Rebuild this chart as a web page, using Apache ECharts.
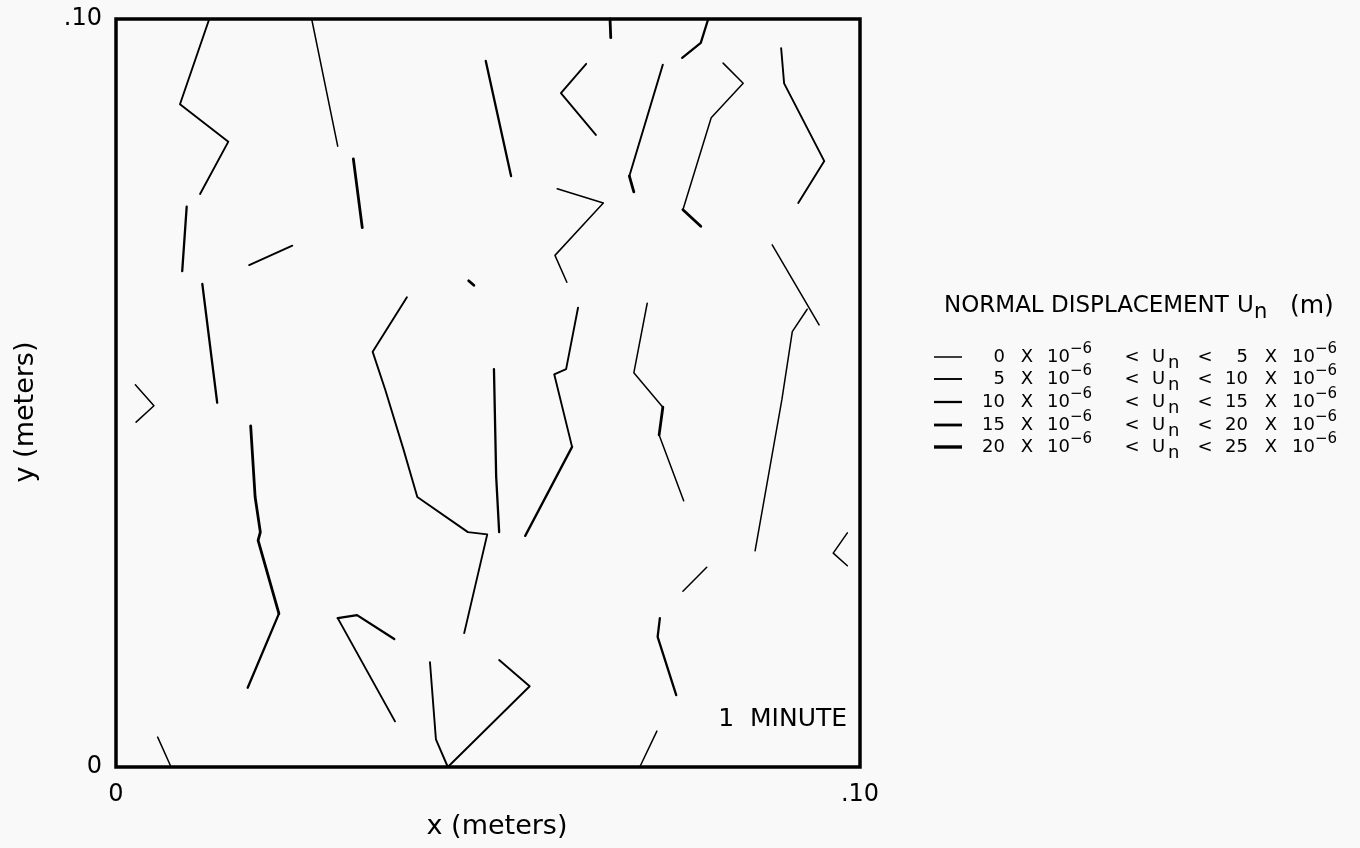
<!DOCTYPE html>
<html>
<head>
<meta charset="utf-8">
<script src="https://cdn.jsdelivr.net/npm/echarts@6/dist/echarts.min.js"></script>
<style>
  html, body { margin: 0; padding: 0; background: #f9f9f9; }
  #chart { width: 1360px; height: 848px; }
</style>
</head>
<body>
<div id="chart"></div>
<script>
// Fracture traces in the 0.10 m x 0.10 m block, coordinates in meters [x, y].
// Each trace is drawn with the line weight of its normal-displacement band.
const traceA  = [[0.0125, 0.0999], [0.0086, 0.0886], [0.0151, 0.0836], [0.0113, 0.0766]];
const traceB  = [[0.0263, 0.1000], [0.0298, 0.0830]];
const traceC  = [[0.0319, 0.0813], [0.0331, 0.0721]];
const traceD  = [[0.0095, 0.0749], [0.0089, 0.0663]];
const traceE  = [[0.0179, 0.0671], [0.0237, 0.0697]];
const traceF  = [[0.0116, 0.0646], [0.0136, 0.0487]];
const traceG  = [[0.0026, 0.0511], [0.0051, 0.0483], [0.0027, 0.0461]];
const traceH1 = [[0.0181, 0.0456], [0.0187, 0.0361], [0.0194, 0.0314], [0.0191, 0.0303], [0.0219, 0.0205]];
const traceH2 = [[0.0219, 0.0205], [0.0177, 0.0106]];
const traceBL = [[0.0056, 0.0040], [0.0074, 0.0000]];
const traceI1 = [[0.0374, 0.0171], [0.0324, 0.0203], [0.0298, 0.0199]];
const traceI2 = [[0.0298, 0.0199], [0.0375, 0.0061]];
const traceJ  = [[0.0391, 0.0628], [0.0345, 0.0555], [0.0362, 0.0504], [0.0386, 0.0426],
                 [0.0405, 0.0361], [0.0473, 0.0314], [0.0499, 0.0311], [0.0468, 0.0179]];
const traceK  = [[0.0508, 0.0532], [0.0511, 0.0388], [0.0515, 0.0314]];
const traceL1 = [[0.0621, 0.0614], [0.0605, 0.0532], [0.0589, 0.0525], [0.0613, 0.0428]];
const traceL2 = [[0.0613, 0.0428], [0.0550, 0.0309]];
const traceM  = [[0.0422, 0.0140], [0.0430, 0.0037], [0.0446, 0.0000], [0.0556, 0.0108], [0.0515, 0.0143]];
const traceN  = [[0.0497, 0.0944], [0.0531, 0.0790]];
const traceO  = [[0.0632, 0.0940], [0.0598, 0.0901], [0.0645, 0.0845]];
const traceP  = [[0.0593, 0.0773], [0.0655, 0.0754], [0.0590, 0.0684], [0.0606, 0.0648]];
const traceQ  = [[0.0664, 0.1000], [0.0665, 0.0975]];
const traceR  = [[0.0796, 0.1000], [0.0786, 0.0968], [0.0761, 0.0948]];
const traceS1 = [[0.0735, 0.0939], [0.0690, 0.0790]];
const traceS2 = [[0.0690, 0.0790], [0.0696, 0.0769]];
const traceT1 = [[0.0816, 0.0941], [0.0843, 0.0914], [0.0800, 0.0868], [0.0762, 0.0745]];
const traceT2 = [[0.0762, 0.0745], [0.0786, 0.0723]];
const traceU  = [[0.0894, 0.0961], [0.0898, 0.0914], [0.0952, 0.0810], [0.0917, 0.0754]];
const traceV1 = [[0.0882, 0.0698], [0.0945, 0.0591]];
const traceV2 = [[0.0929, 0.0612], [0.0909, 0.0582], [0.0895, 0.0491], [0.0859, 0.0289]];
const traceW1 = [[0.0714, 0.0620], [0.0696, 0.0527], [0.0735, 0.0481]];
const traceW2 = [[0.0735, 0.0481], [0.0730, 0.0444]];
const traceW3 = [[0.0730, 0.0444], [0.0763, 0.0356]];
const traceX  = [[0.0794, 0.0267], [0.0762, 0.0235]];
const traceY  = [[0.0983, 0.0313], [0.0964, 0.0286], [0.0983, 0.0269]];
const traceZ  = [[0.0731, 0.0199], [0.0728, 0.0174], [0.0753, 0.0096]];
const traceAA = [[0.0727, 0.0048], [0.0704, 0.0000]];
const traceDot = [[0.0474, 0.0650], [0.0481, 0.0644]];

const fractures = [traceA, traceB, traceC, traceD, traceE, traceF, traceG, traceH1, traceH2,
  traceBL, traceI1, traceI2, traceJ, traceK, traceL1, traceL2, traceM, traceN, traceO, traceP,
  traceQ, traceR, traceS1, traceS2, traceT1, traceT2, traceU, traceV1, traceV2, traceW1,
  traceW2, traceW3, traceX, traceY, traceZ, traceAA, traceDot];
// displacement band (1..5) of each trace, same order as above
const bands = [2, 1, 4, 3, 2, 3, 1, 4, 3,
  1, 3, 2, 2, 3, 2, 3, 2, 3, 2, 1,
  4, 3, 2, 4, 1, 4, 2, 1, 1, 1,
  4, 1, 1, 1, 3, 1, 4];

// band limits, in units of 10^-6 m
const bandLow = [0, 5, 10, 15, 20];
const bandHigh = [5, 10, 15, 20, 25];

// axis ticks
const tickValues = [0, 0.1];
const tickLabels = ['0', '.10'];

const lineWidths = [1.5, 1.9, 2.3, 2.8, 3.4];
const FONT = '"DejaVu Sans", sans-serif';

const chart = echarts.init(document.getElementById('chart'), null, { renderer: 'canvas' });

function txt(text, x, y, size, align, extra) {
  return Object.assign({
    type: 'text', x: x, y: y, silent: true,
    style: {
      text: text, fill: '#000', font: size + 'px ' + FONT,
      align: align, textAlign: align,
      verticalAlign: 'middle', textVerticalAlign: 'middle'
    }
  }, extra || {});
}

const graphics = [];
// legend title
const titleY = 306;
graphics.push(txt('NORMAL DISPLACEMENT', 944, titleY, 23, 'left'));
graphics.push(txt('U', 1237, titleY, 23, 'left'));
graphics.push(txt('n', 1254, titleY + 7, 21, 'left'));
graphics.push(txt('(m)', 1290, titleY, 25, 'left'));

// legend rows
const rowY = [357, 379, 402, 425, 447];
bandLow.forEach(function (lo, i) {
  const y = rowY[i];
  graphics.push({
    type: 'line', silent: true,
    shape: { x1: 934, y1: y, x2: 962, y2: y },
    style: { stroke: '#000', lineWidth: lineWidths[i] }
  });
  graphics.push(txt(String(lo), 1005, y, 18, 'right'));
  graphics.push(txt('X', 1027, y, 18, 'center'));
  graphics.push(txt('10', 1047, y, 18, 'left'));
  graphics.push(txt('\u22126', 1070, y - 8, 15, 'left'));
  graphics.push(txt('<', 1132, y, 18, 'center'));
  graphics.push(txt('U', 1152, y, 18, 'left'));
  graphics.push(txt('n', 1168, y + 6, 18, 'left'));
  graphics.push(txt('<', 1205, y, 18, 'center'));
  graphics.push(txt(String(bandHigh[i]), 1248, y, 18, 'right'));
  graphics.push(txt('X', 1271, y, 18, 'center'));
  graphics.push(txt('10', 1292, y, 18, 'left'));
  graphics.push(txt('\u22126', 1315, y - 8, 15, 'left'));
});

// time stamp inside the block
graphics.push(txt('1  MINUTE', 847, 719, 25, 'right'));
// axis titles
graphics.push(txt('x (meters)', 497, 827, 27, 'center'));
graphics.push(txt('y (meters)', 26, 412, 27, 'center', { rotation: Math.PI / 2 }));

const series = fractures.map(function (pts, i) {
  return {
    type: 'line',
    data: pts,
    symbol: 'none',
    showSymbol: false,
    silent: true,
    animation: false,
    clip: false,
    lineStyle: { color: '#000', width: lineWidths[bands[i] - 1], cap: 'round', join: 'round' },
    emphasis: { disabled: true }
  };
});

function tickText(v) {
  const k = tickValues.findIndex(function (t) { return Math.abs(t - v) < 1e-9; });
  return k >= 0 ? tickLabels[k] : '';
}

chart.setOption({
  backgroundColor: '#f9f9f9',
  animation: false,
  grid: {
    left: 116, top: 19, width: 744, height: 748,
    show: true, borderColor: '#000', borderWidth: 3.5, backgroundColor: 'transparent'
  },
  xAxis: {
    type: 'value', min: 0, max: 0.1, interval: 0.1,
    axisLine: { show: false }, axisTick: { show: false }, splitLine: { show: false },
    axisLabel: { formatter: tickText, color: '#000', fontSize: 24, fontFamily: FONT, margin: 16,
                 showMinLabel: true, showMaxLabel: true }
  },
  yAxis: {
    type: 'value', min: 0, max: 0.1, interval: 0.1,
    axisLine: { show: false }, axisTick: { show: false }, splitLine: { show: false },
    axisLabel: { formatter: tickText, color: '#000', fontSize: 24, fontFamily: FONT, margin: 14,
                 showMinLabel: true, showMaxLabel: true }
  },
  graphic: graphics,
  series: series
});
</script>
</body>
</html>
